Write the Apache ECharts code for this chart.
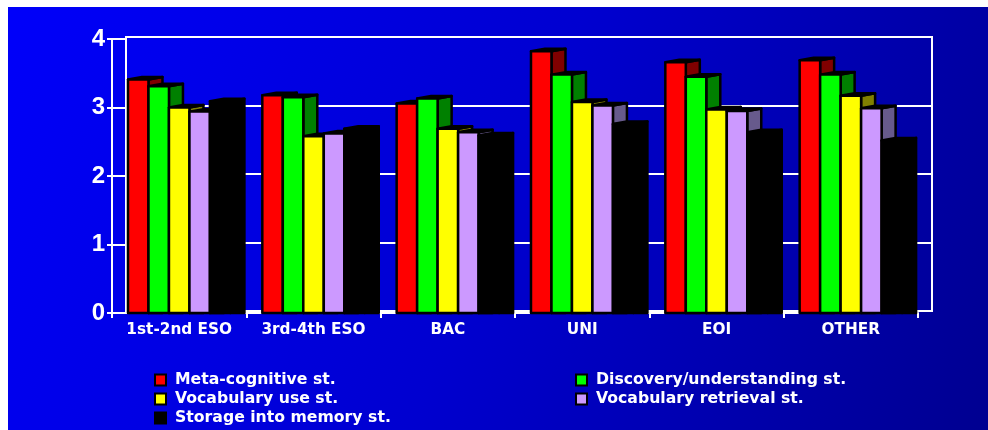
<!DOCTYPE html>
<html>
<head>
<meta charset="utf-8">
<script src="https://cdn.jsdelivr.net/npm/echarts@6/dist/echarts.min.js"></script>
<style>
  html, body { margin: 0; padding: 0; background: #ffffff; width: 988px; height: 430px; overflow: hidden; }
  #chart { position: absolute; left: 8px; top: 7px; width: 980px; height: 423px; }
</style>
</head>
<body>
<div id="chart"></div>
<script>
// Categories (school levels) and mean strategy-use scores
const categories = ['1st-2nd ESO', '3rd-4th ESO', 'BAC', 'UNI', 'EOI', 'OTHER'];
const yTicks = [0, 1, 2, 3, 4];

const metaCognitive   = [3.41, 3.18, 3.06, 3.82, 3.66, 3.69];
const discovery       = [3.31, 3.15, 3.13, 3.48, 3.45, 3.48];
const vocabularyUse   = [3.00, 2.58, 2.69, 3.08, 2.97, 3.17];
const retrieval       = [2.94, 2.62, 2.64, 3.03, 2.95, 2.99];
const storage         = [3.09, 2.69, 2.59, 2.76, 2.64, 2.52];

const seriesNames = [
  'Meta-cognitive st.',
  'Discovery/understanding st.',
  'Vocabulary use st.',
  'Vocabulary retrieval st.',
  'Storage into memory st.'
];
const seriesValues = [metaCognitive, discovery, vocabularyUse, retrieval, storage];
const frontColors = ['#ff0000', '#00ff00', '#ffff00', '#cc99ff', '#000000'];
const sideColors  = ['#800000', '#008000', '#808000', '#675a8c', '#000000'];

// 3D column geometry, expressed relative to the category band
const LEFT_PAD = 0.119;   // gap before first column
const BAR_W = 0.1525;     // front face width
const DEPTH = 14;         // side face depth in px
const RISE = 2.5;         // side face rise in px

function makeRenderer(idx) {
  return function (params, api) {
    const cat = api.value(0);
    const val = api.value(1);
    const band = api.size([1, 0])[0];
    const basePt = api.coord([cat, 0]);
    const topY = api.coord([cat, val])[1];
    const baseY = basePt[1];
    const x0 = basePt[0] - band / 2 + band * LEFT_PAD + idx * band * BAR_W;
    const x1 = x0 + band * BAR_W;
    const stroke = { stroke: '#000', lineWidth: 2.5, lineJoin: 'round' };
    return {
      type: 'group',
      children: [
        {
          type: 'polygon',
          shape: { points: [[x1, topY], [x1 + DEPTH, topY - RISE], [x1 + DEPTH, baseY], [x1, baseY]] },
          style: Object.assign({ fill: sideColors[idx] }, stroke)
        },
        {
          type: 'polygon',
          shape: { points: [[x0, topY], [x0 + DEPTH, topY - RISE], [x1 + DEPTH, topY - RISE], [x1, topY]] },
          style: Object.assign({ fill: sideColors[idx] }, stroke)
        },
        {
          type: 'rect',
          shape: { x: x0, y: topY, width: x1 - x0, height: baseY - topY },
          style: Object.assign({ fill: frontColors[idx] }, stroke)
        }
      ]
    };
  };
}

const series = seriesValues.map((vals, i) => ({
  name: seriesNames[i],
  type: 'custom',
  xAxisIndex: 0,
  yAxisIndex: 0,
  z: 10 + i,
  color: frontColors[i],
  renderItem: makeRenderer(i),
  encode: { x: 0, y: 1 },
  data: vals.map((v, c) => [c, v])
}));

// Legend placement: two columns, three rows
const legendSlots = [
  { left: 146, top: 364 },
  { left: 567, top: 364 },
  { left: 146, top: 383 },
  { left: 567, top: 383 },
  { left: 146, top: 402 }
];
const legends = seriesNames.map((name, i) => ({
  left: legendSlots[i].left,
  top: legendSlots[i].top,
  padding: 0,
  orient: 'horizontal',
  itemWidth: 11,
  itemHeight: 11,
  icon: 'rect',
  data: [{
    name: name,
    itemStyle: { color: frontColors[i], borderColor: '#000', borderWidth: 2 }
  }],
  textStyle: {
    color: '#ffffff',
    fontFamily: 'DejaVu Sans',
    fontWeight: 'bold',
    fontSize: 15.7,
    lineHeight: 18,
    padding: [0, 0, 0, 4]
  }
}));

const chart = echarts.init(document.getElementById('chart'), null, { renderer: 'canvas' });
chart.setOption({
  animation: false,
  backgroundColor: {
    type: 'linear', x: 0, y: 0, x2: 1, y2: 1,
    colorStops: [
      { offset: 0, color: '#0000fa' },
      { offset: 0.5, color: '#0000d0' },
      { offset: 1, color: '#000090' }
    ]
  },
  grid: [
    // front plane
    { left: 104, top: 32, width: 806, height: 274 },
    // back wall
    { left: 118, top: 30, width: 806, height: 274, show: true, borderColor: '#ffffff', borderWidth: 2, backgroundColor: 'transparent' }
  ],
  xAxis: [
    {
      gridIndex: 0,
      type: 'category',
      data: categories,
      boundaryGap: true,
      axisLine: { show: true, lineStyle: { color: '#ffffff', width: 2 } },
      axisTick: { show: true, interval: 0, length: 5, lineStyle: { color: '#ffffff', width: 2 } },
      axisLabel: { interval: 0, hideOverlap: false, color: '#ffffff', fontFamily: 'DejaVu Sans', fontWeight: 'bold', fontSize: 15.3, margin: 10 },
      splitLine: { show: false }
    },
    {
      gridIndex: 1,
      type: 'value',
      show: false
    }
  ],
  yAxis: [
    {
      gridIndex: 0,
      type: 'value',
      min: yTicks[0],
      max: yTicks[yTicks.length - 1],
      interval: 1,
      axisLine: { show: true, lineStyle: { color: '#ffffff', width: 2 } },
      axisTick: { show: true, length: 5, lineStyle: { color: '#ffffff', width: 2 } },
      axisLabel: { color: '#ffffff', fontFamily: 'Liberation Sans', fontWeight: 'bold', fontSize: 24, margin: 7 },
      splitLine: { show: false }
    },
    {
      // short connectors from the front axis to the back wall
      gridIndex: 0,
      type: 'value',
      position: 'left',
      min: yTicks[0],
      max: yTicks[yTicks.length - 1],
      interval: 1,
      axisLine: { show: false },
      axisTick: { show: true, inside: true, length: 14, lineStyle: { color: '#ffffff', width: 2 } },
      axisLabel: { show: false },
      splitLine: { show: false }
    },
    {
      gridIndex: 1,
      type: 'value',
      min: yTicks[0],
      max: yTicks[yTicks.length - 1],
      interval: 1,
      axisLine: { show: false },
      axisTick: { show: false },
      axisLabel: { show: false },
      splitLine: { show: true, lineStyle: { color: '#ffffff', width: 2 } }
    }
  ],
  legend: legends,
  series: series
});
</script>
</body>
</html>
